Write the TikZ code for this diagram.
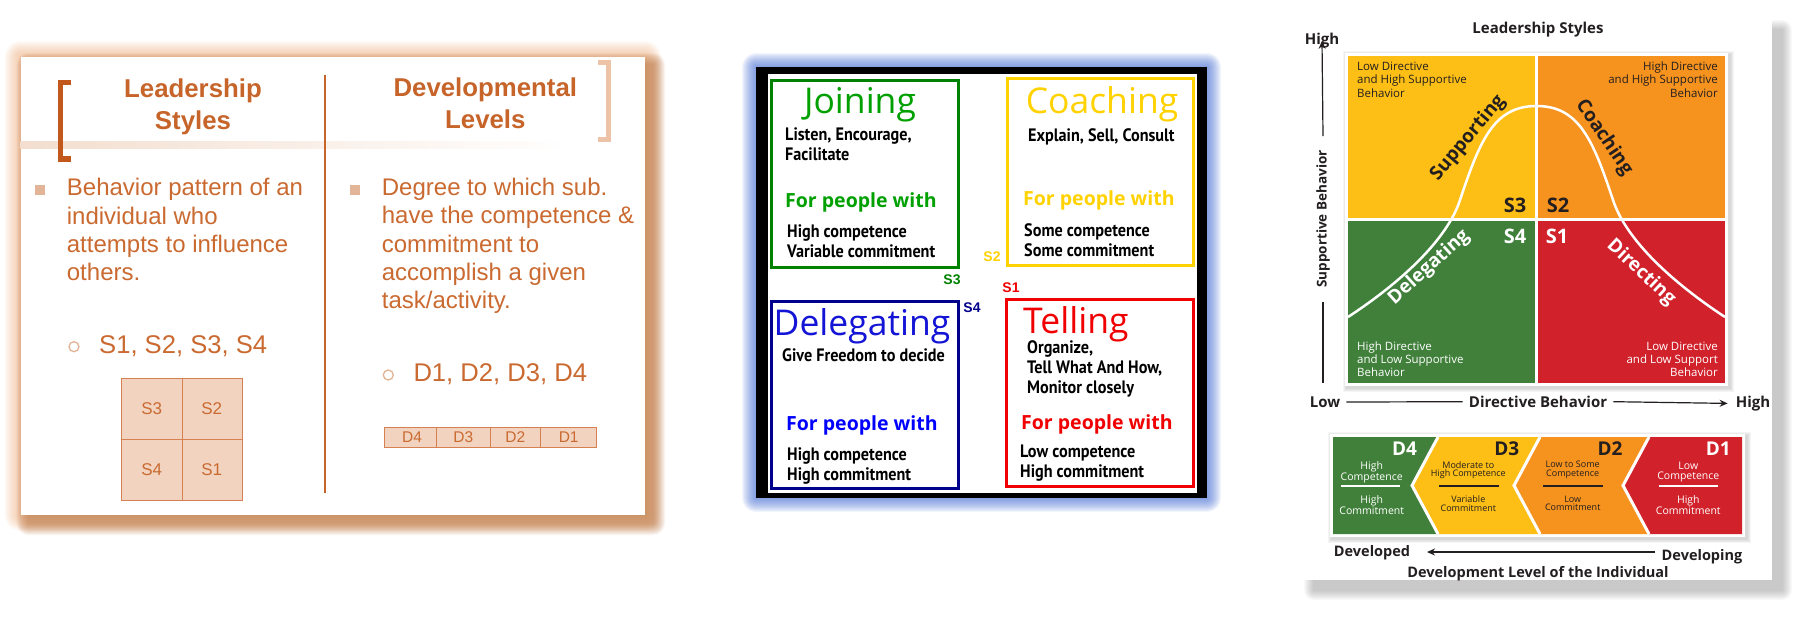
\documentclass[tikz,border=0pt]{standalone}
\usepackage{fontspec}
\setmainfont{Liberation Sans}
\newfontfamily\osfont{Open Sans}
\newfontfamily\pxfont{PT Sans}[FakeStretch=0.9]
\usetikzlibrary{arrows.meta}

% first card
\definecolor{lsbody}{RGB}{202,106,48}
\definecolor{lstitle}{RGB}{198,100,42}
\definecolor{lsglow}{RGB}{236,170,120}
\definecolor{lsshade}{RGB}{188,118,66}
\definecolor{lspale}{RGB}{241,211,192}
\definecolor{lsedge}{RGB}{212,128,80}
\definecolor{lsdot}{RGB}{226,181,152}
\definecolor{lsbrack}{RGB}{194,88,28}
\definecolor{lsbrackl}{RGB}{236,195,166}
\definecolor{lsband}{RGB}{243,222,207}
% second card
\definecolor{jgreen}{RGB}{0,130,0}
\definecolor{jgreentx}{RGB}{0,160,0}
\definecolor{cyellow}{RGB}{255,210,0}
\definecolor{dnavy}{RGB}{0,0,140}
\definecolor{dblue}{RGB}{20,20,215}
\definecolor{tred}{RGB}{240,0,0}
\definecolor{bglow}{RGB}{70,110,210}
% third card
\definecolor{qyellow}{RGB}{253,190,22}
\definecolor{qorange}{RGB}{246,146,30}
\definecolor{qgreen}{RGB}{64,128,58}
\definecolor{qred}{RGB}{209,33,42}
\definecolor{qdark}{RGB}{35,31,32}

\newcommand{\fsz}[2]{\fontsize{#1}{#2}\selectfont}

\tikzset{
  ls head/.style={font=\bfseries\fsz{25.8}{31.5}, text=lstitle, inner sep=0pt, align=center},
  ls body/.style={font=\fsz{24}{28.4}, text=lsbody, inner sep=0pt, align=left},
  ls sub/.style={font=\fsz{25.6}{30}, text=lsbody, inner sep=0pt},
  ls cell/.style={font=\fsz{17}{20}, text=lsbody},
  ls strip/.style={font=\fsz{15.5}{18}, text=lsbody},
  p2 title/.style={font=\osfont\fsz{35.5}{40}, inner sep=0pt},
  px text/.style={font=\pxfont\bfseries\fsz{18}{20}, text=black, inner sep=0pt, align=left},
  fp text/.style={font=\osfont\bfseries\fsz{19.5}{24}, inner sep=0pt},
  s tag/.style={font=\bfseries\fsz{14}{16}, inner sep=0pt},
  p3 bold/.style={font=\osfont\bfseries\fsz{15}{18}, text=qdark, inner sep=0pt},
  corner/.style={font=\osfont\fsz{11.5}{13.3}, inner sep=0pt},
  quad s/.style={font=\osfont\bfseries\fsz{20}{24}},
  curve lbl/.style={font=\osfont\bfseries\fsz{19}{22}},
  dev big/.style={font=\osfont\bfseries\fsz{19}{22}},
  dev small/.style={font=\osfont\fsz{10.5}{10}, align=center, inner sep=0pt},
  dev tiny/.style={font=\osfont\fsz{9}{8.5}, align=center, inner sep=0pt},
  arr/.style={-{Stealth[length=8pt,width=7pt]}, line width=1.2pt, qdark}
}

\begin{document}
\begin{tikzpicture}[x=1pt, y=-1pt]
\useasboundingbox (0,0) rectangle (1806,619);

%%% card 1
\foreach \g in {1,...,16}
  \fill[lsglow, opacity=0.05, rounded corners=\g pt] ({20.7-\g},{57-\g}) rectangle ({645+\g},{515+\g});
\foreach \g in {1,...,12}
  \fill[lsshade, opacity=0.08, rounded corners=\g pt] ({28.7-\g},{65-\g}) rectangle ({653+\g},{523+\g});
\fill[white] (20.7,57) rectangle (645,515);
\shade[left color=lsband, right color=white] (20.7,141.7) rectangle (570,148.3);
\draw[lsbrack, line width=5.5pt] (71,82.5) -- (60.3,82.5) -- (60.3,159.2) -- (71,159.2);
\draw[lsbrackl, line width=5pt] (598.3,62) -- (608.3,62) -- (608.3,139.2) -- (598.3,139.2);
\draw[lstitle, line width=2pt] (325,75) -- (325,493.3);

% multi-line nodes: base = last line
\node[ls head, anchor=base] (lshead) at (193,129) {Leadership\\Styles};
\node[ls head, anchor=base] (dlhead) at (485.3,128.3) {Developmental\\Levels};

\fill[lsdot] (35,185) rectangle (45,195);
\fill[lsdot] (350,185) rectangle (360,195);
\node[ls body, anchor=base west] (lsdef) at (66.7,280.9) {Behavior pattern of an\\individual who\\attempts to influence\\others.};
\node[ls body, anchor=base west] (dldef) at (381.7,308.9) {Degree to which sub.\\have the competence \&\\commitment to\\accomplish a given\\task/activity.};

\draw[lsdot, line width=1.3pt] (74,346.7) circle (5);
\draw[lsdot, line width=1.3pt] (388.3,375) circle (5);
\node[ls sub, anchor=base west] (slist) at (99,353.3) {S1, S2, S3, S4};
\node[ls sub, anchor=base west] (dlist) at (413.3,381.7) {D1, D2, D3, D4};

% style grid
\fill[lspale] (121.7,378.7) rectangle (242.7,500);
\draw[lsedge, line width=1pt] (121.7,378.7) rectangle (242.7,500) (182.3,378.7) -- (182.3,500) (121.7,439.3) -- (242.7,439.3);
\node[ls cell] (gs3) at (151.7,408.7) {S3};
\node[ls cell] (gs2) at (211.7,408.7) {S2};
\node[ls cell] (gs4) at (151.7,470) {S4};
\node[ls cell] (gs1) at (211.7,470) {S1};

% level strip
\fill[lspale] (384.3,427.3) rectangle (596.7,447.3);
\draw[lsedge, line width=1pt] (384.3,427.3) rectangle (596.7,447.3);
\foreach \sx in {436,490,540.7}
  \draw[lsedge, line width=1pt] (\sx,427.3) -- (\sx,447.3);
\node[ls strip] (sd4) at (412,437.3) {D4};
\node[ls strip] (sd3) at (463.3,437.3) {D3};
\node[ls strip] (sd2) at (515.3,437.3) {D2};
\node[ls strip] (sd1) at (568.7,437.3) {D1};

%%% card 2
\foreach \g in {1,...,14}
  \fill[bglow, opacity=0.07, rounded corners=\g pt] ({756-\g},{67-\g}) rectangle ({1207+\g},{498+\g});
\fill[black] (756,67) rectangle (1207,498);
\fill[white] (768,74) rectangle (1197,493);
\draw[jgreen, line width=3pt] (771.5,80.5) rectangle (958.5,267.5);
\draw[cyellow, line width=3pt] (1007.5,78.5) rectangle (1193.5,265.5);
\draw[dnavy, line width=3pt] (771.5,301.5) rectangle (958.5,488.5);
\draw[tred, line width=3pt] (1006.5,299.5) rectangle (1193.5,486.5);

\node[p2 title, text=jgreentx, anchor=base] (joining) at (860,113) {Joining};
\node[p2 title, text=cyellow, anchor=base] (coaching) at (1102,113) {Coaching};
\node[p2 title, text=dblue, anchor=base] (delegating) at (862,335) {Delegating};
\node[p2 title, text=tred, anchor=base west] (telling) at (1023,333) {Telling};

\node[px text, anchor=base west] (joindo) at (785,160) {Listen, Encourage,\\Facilitate};
\node[px text, anchor=base west] (coachdo) at (1028,141) {Explain, Sell, Consult};
\node[px text, anchor=base west] (delegdo) at (782,361) {Give Freedom to decide};
\node[px text, anchor=base west] (telldo) at (1027,393) {Organize,\\Tell What And How,\\Monitor closely};

\node[fp text, text=jgreentx, anchor=base west] (joinfp) at (785,207) {For people with};
\node[fp text, text=cyellow, anchor=base west] (coachfp) at (1023,205) {For people with};
\node[fp text, text=blue, anchor=base west] (delegfp) at (786,430) {For people with};
\node[fp text, text=tred, anchor=base west] (tellfp) at (1021,429) {For people with};

\node[px text, anchor=base west] (joinwho) at (787,257) {High competence\\Variable commitment};
\node[px text, anchor=base west] (coachwho) at (1024,256) {Some competence\\Some commitment};
\node[px text, anchor=base west] (delegwho) at (787,480) {High competence\\High commitment};
\node[px text, anchor=base west] (tellwho) at (1020,477) {Low competence\\High commitment};

\node[s tag, text=cyellow] (tag2) at (992,257) {S2};
\node[s tag, text=jgreen] (tag3) at (952,280) {S3};
\node[s tag, text=tred] (tag1) at (1011,288) {S1};
\node[s tag, text=dnavy] (tag4) at (972,308) {S4};

%%% card 3
\foreach \g in {1,...,10}
  \fill[black, opacity=0.022, rounded corners=\g pt] ({1314-\g},{30-\g}) rectangle ({1782+\g},{590+\g});
\fill[white] (1304,20) rectangle (1772,580);

\node[p3 bold, anchor=base] (lstyles) at (1538,33) {Leadership Styles};

% quadrants
\foreach \g in {1,...,4}
  \fill[black, opacity=0.04] ({1347-\g},{55-\g}) rectangle ({1730+\g},{388+\g});
\fill[white] (1345,53) rectangle (1728,386);
\fill[qyellow] (1348,56) rectangle (1535,218);
\fill[qorange] (1538,56) rectangle (1725,218);
\fill[qgreen] (1348,221) rectangle (1535,383);
\fill[qred] (1538,221) rectangle (1725,383);
\draw[white, line width=2.5pt] (1348,317) .. controls (1400,283) and (1447,240) .. (1460,200)
  .. controls (1480,140) and (1494,106) .. (1536.5,106)
  .. controls (1579,106) and (1593,140) .. (1613,200)
  .. controls (1626,240) and (1673,283) .. (1725,317);

\node[corner, text=qdark, anchor=base west, align=left] (tlnote) at (1357,97) {Low Directive\\and High Supportive\\Behavior};
\node[corner, text=qdark, anchor=base east, align=right] (trnote) at (1718,97) {High Directive\\and High Supportive\\Behavior};
\node[corner, text=white, anchor=base west, align=left] (blnote) at (1357,376.6) {High Directive\\and Low Supportive\\Behavior};
\node[corner, text=white, anchor=base east, align=right] (brnote) at (1718,376.6) {Low Directive\\and Low Support\\Behavior};

\node[quad s, text=qdark] (q3) at (1515,205) {S3};
\node[quad s, text=qdark] (q2) at (1558,205) {S2};
\node[quad s, text=white] (q4) at (1515,236) {S4};
\node[quad s, text=white] (q1) at (1557,236) {S1};

\node[curve lbl, text=qdark, rotate=50] (supp) at (1468,138) {Supporting};
\node[curve lbl, text=qdark, rotate=-56] (coach) at (1604,137.5) {Coaching};
\node[curve lbl, text=white, rotate=42] (deleg) at (1429,267.5) {Delegating};
\node[curve lbl, text=white, rotate=-43] (direc) at (1641,272.5) {Directing};

% axes
\node[p3 bold, anchor=base] (hightop) at (1322,44) {High};
\node[p3 bold, font=\osfont\bfseries\fsz{13.5}{16}, rotate=90, inner xsep=14pt] (sbeh) at (1323,219) {Supportive Behavior};
\coordinate (vbase) at (1323,383);
\draw[arr] (sbeh.east) -- ([yshift=7pt]hightop.south);
\draw[line width=1.2pt, qdark] (sbeh.west) -- (vbase);

\node[p3 bold, anchor=base, inner xsep=6pt] (lowlbl) at (1325,407.3) {Low};
\node[p3 bold, anchor=base, inner xsep=6pt] (dirb) at (1538,407.3) {Directive Behavior};
\node[p3 bold, anchor=base, inner xsep=8pt] (highlbl) at (1753,407.3) {High};
\draw[line width=1.2pt, qdark] (lowlbl.east) -- (dirb.west);
\draw[arr] (dirb.east) -- (highlbl.west);

% development strip
\foreach \g in {1,...,4}
  \fill[black, opacity=0.04] ({1332-\g},{436-\g}) rectangle ({1747+\g},{539+\g});
\fill[white] (1330,434) rectangle (1745,537);
\fill[qgreen] (1333,437) -- (1438,437) -- (1412,485.5) -- (1438,534) -- (1333,534) -- cycle;
\fill[qyellow] (1438,437) -- (1540,437) -- (1514,485.5) -- (1540,534) -- (1438,534) -- (1412,485.5) -- cycle;
\fill[qorange] (1540,437) -- (1649,437) -- (1623,485.5) -- (1649,534) -- (1540,534) -- (1514,485.5) -- cycle;
\fill[qred] (1649,437) -- (1742,437) -- (1742,534) -- (1649,534) -- (1623,485.5) -- cycle;
\foreach \cx in {1438,1540,1649}
  \draw[white, line width=3pt] (\cx,437) -- ({\cx-26},485.5) -- (\cx,534);

\node[dev big, text=white] (d4) at (1404.5,449) {D4};
\node[dev big, text=qdark] (d3) at (1506.7,449) {D3};
\node[dev big, text=qdark] (d2) at (1610,449) {D2};
\node[dev big, text=white] (d1) at (1718.3,449) {D1};

\node[dev small, text=white] (d4c) at (1371.7,472) {High\\Competence};
\node[dev small, text=white] (d4m) at (1371.7,505) {High\\Commitment};
\node[dev tiny, text=qdark] (d3c) at (1468.3,470) {Moderate to\\High Competence};
\node[dev tiny, text=qdark] (d3m) at (1468.3,503.5) {Variable\\Commitment};
\node[dev tiny, text=qdark] (d2c) at (1572.7,470) {Low to Some\\Competence};
\node[dev tiny, text=qdark] (d2m) at (1572.7,503.5) {Low\\Commitment};
\node[dev small, text=white] (d1c) at (1688.3,472) {Low\\Competence};
\node[dev small, text=white] (d1m) at (1688.3,505) {High\\Commitment};
\draw[white, line width=1.3pt] (1341,486) -- (1400,486);
\draw[qdark, line width=1.3pt] (1439,486) -- (1499,486);
\draw[qdark, line width=1.3pt] (1543,486) -- (1603,486);
\draw[white, line width=1.3pt] (1659,486) -- (1718,486);

\node[p3 bold, font=\osfont\bfseries\fsz{14.5}{17}, anchor=base] (dvlped) at (1372,556) {Developed};
\node[p3 bold, font=\osfont\bfseries\fsz{14.5}{17}, anchor=base] (dvlping) at (1702,560) {Developing};
\coordinate (devtail) at (1655,552);
\coordinate (devtip) at (1427,552);
\draw[arr] (devtail) -- (devtip);
\node[p3 bold, font=\osfont\bfseries\fsz{14.5}{17}, anchor=base] (devlvl) at (1538,577) {Development Level of the Individual};
\end{tikzpicture}
\end{document}
